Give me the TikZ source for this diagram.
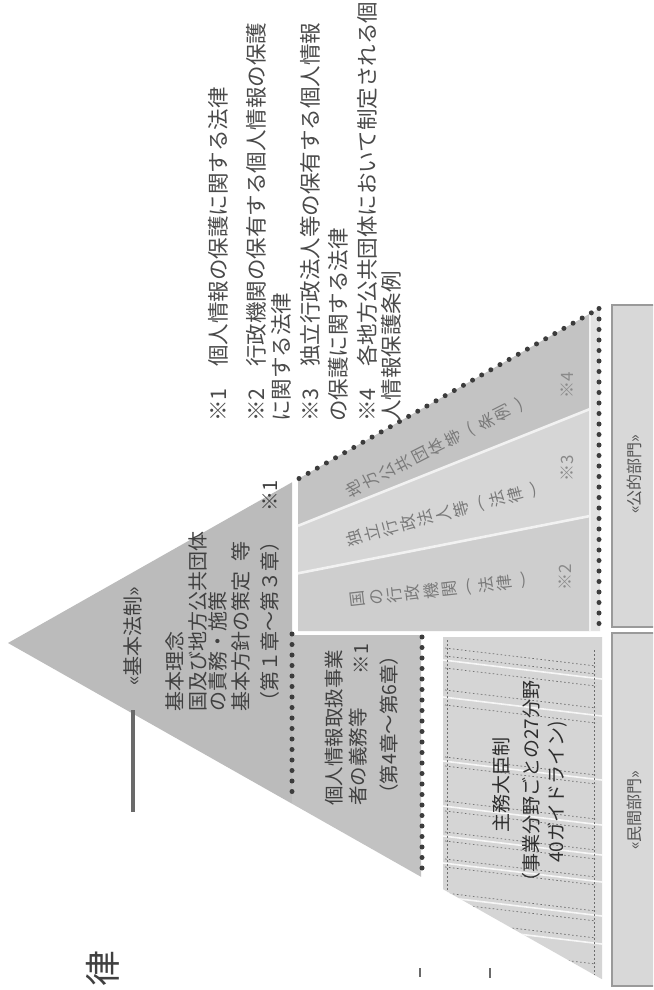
\documentclass[tikz,border=0pt]{standalone}
\usepackage{fontspec}
\usepackage{graphicx}
\newfontfamily\jp{Noto Sans CJK JP}
\newcommand{\vlp}{\rotatebox[origin=c]{-90}{(}}
\newcommand{\vrp}{\rotatebox[origin=c]{-90}{)}}
\definecolor{kihonfill}{HTML}{BBBBBB}
\definecolor{bandfill}{HTML}{C2C2C2}
\definecolor{shumufill}{HTML}{D5D5D5}
\definecolor{sfourfill}{HTML}{C3C3C3}
\definecolor{sthreefill}{HTML}{D6D6D6}
\definecolor{stwofill}{HTML}{CECECE}
\definecolor{rightfill}{HTML}{E2E2E2}
\definecolor{basefill}{HTML}{D8D8D8}
\definecolor{boxline}{HTML}{9A9A9A}
\definecolor{dotc}{HTML}{3C3C3C}
\definecolor{guidec}{HTML}{6E6E6E}
\definecolor{notec}{HTML}{4A4A4A}
\definecolor{darkt}{HTML}{404040}
\definecolor{shumuc}{HTML}{2E2E2E}
\definecolor{stripc}{HTML}{7A7A7A}
\definecolor{komec}{HTML}{8A8A8A}
\definecolor{basec}{HTML}{555555}
\definecolor{barc}{HTML}{6A6A6A}
\tikzset{
  notetxt/.style={font=\jp\fontsize{21.5pt}{24pt}\selectfont, text=notec, rotate=90, anchor=west, inner sep=0pt},
  kihontxt/.style={font=\jp\fontsize{20pt}{22pt}\selectfont, text=darkt, rotate=90, anchor=west, inner sep=0pt},
  bandtxt/.style={font=\jp\fontsize{19.5pt}{22pt}\selectfont, text=darkt, rotate=90, anchor=west, inner sep=0pt},
  shumutxt/.style={font=\jp\fontsize{19pt}{22pt}\selectfont, text=shumuc, rotate=90, inner sep=0pt},
  striptxt/.style={font=\jp\fontsize{16.5pt}{18.5pt}\selectfont, text=stripc, align=center, inner sep=0pt},
  kometxt/.style={font=\jp\fontsize{17pt}{18pt}\selectfont, text=komec, rotate=90, inner sep=0pt},
  basetxt/.style={font=\jp\fontsize{16pt}{18pt}\selectfont, text=basec, rotate=90, inner sep=0pt},
  dotline/.style={draw=dotc, line width=5pt, line cap=round, dash pattern=on 0pt off 10.5pt},
  guide/.style={draw=guidec, line width=0.7pt, dash pattern=on 1.6pt off 2.4pt},
  hilite/.style={draw=white!90!gray, line width=2.6pt},
  softhilite/.style={draw=white, line width=1.6pt, opacity=0.8},
  basebox/.style={fill=basefill, draw=boxline, line width=1.4pt},
  tickmark/.style={draw=barc, line width=1.5pt},
}
\begin{document}
\begin{tikzpicture}[x=1pt,y=-1pt]
\useasboundingbox (0,0) rectangle (653,990);
\clip (0,0) rectangle (653,990);
\fill[white] (0,0) rectangle (653,990);

% key points
\coordinate (apex) at (8,643);
\coordinate (kTR) at (292,482.3);
\coordinate (kBR) at (292,803.7);
\coordinate (pTL) at (298,478.9);
\coordinate (pTR) at (590,313.6);
\coordinate (sA1) at (298,525.8);
\coordinate (sA2) at (590,409);
\coordinate (sB1) at (298,573.3);
\coordinate (sB2) at (590,516);
\coordinate (pBL) at (298,631);
\coordinate (pBR) at (590,631);
\coordinate (cTR) at (600,307.9);
\coordinate (cBR) at (600,631);

% basic-law triangle
\fill[kihonfill] (apex) -- (kTR) -- (kBR) -- cycle;

% public strips
\fill[sfourfill] (pTL) -- (pTR) -- (sA2) -- (sA1) -- cycle;
\fill[sthreefill] (sA1) -- (sA2) -- (sB2) -- (sB1) -- cycle;
\fill[stwofill] (sB1) -- (sB2) -- (pBR) -- (pBL) -- cycle;
\fill[rightfill] (pTR) -- (cTR) -- (cBR) -- (pBR) -- cycle;
\draw[hilite] (sA1) -- (sA2);
\draw[hilite] (sB1) -- (sB2);
\draw[hilite] (pTR) -- (pBR);

% private band
\fill[bandfill] (292,635) -- (421,635) -- (421,876.8) -- (292,803.7) -- cycle;
% minister area
\fill[shumufill] (443,637) -- (602,637) -- (602,979.2) -- (443,889.2) -- cycle;
\begin{scope}
  \clip (443,637) -- (602,637) -- (602,979.2) -- (443,889.2) -- cycle;
  \foreach \yy in {660,697,761,806,836,863,897,925} {
    \draw[softhilite] (443,\yy) -- (602,\yy+19);
  }
  \foreach \yy in {648,656,668,690,705,757,766,801,811,832,841,859,867,893,903,920,946} {
    \draw[guide] (445,\yy) -- (596,\yy+18);
  }
  \draw[guide] (447,640) -- (447,895);
  \draw[guide] (594,650) -- (594,980);
\end{scope}

% base boxes
\draw[basebox] (612,305) rectangle (662,627);
\draw[basebox] (612,633) rectangle (662,986);

% dotted borders
\draw[dotline] (299,478.5) -- (599,308.5);
\draw[dotline] (599,308.5) -- (599,633);
\draw[dotline] (292,634) -- (292,800);
\draw[dotline] (422,637) -- (422,874);

% small marks
\draw[line width=3.5pt, draw=barc] (133,710) -- (133,812);
\draw[tickmark] (420,968) -- (420,977);
\draw[tickmark] (490,968) -- (490,978);

% notes
\node[notetxt] (n1) at (218,422) {※1　個人情報の保護に関する法律};
\node[notetxt] (n2a) at (256,422) {※2　行政機関の保有する個人情報の保護};
\node[notetxt] (n2b) at (281,422) {に関する法律};
\node[notetxt] (n3a) at (310,422) {※3　独立行政法人等の保有する個人情報};
\node[notetxt] (n3b) at (338,422) {の保護に関する法律};
\node[notetxt] (n4a) at (367,422) {※4　各地方公共団体において制定される個};
\node[notetxt] (n4b) at (391,422) {人情報保護条例};

% basic-law texts
\node[kihontxt, anchor=center] (kihon) at (133,636) {«基本法制»};
\node[kihontxt] (rinen) at (175,712) {基本理念};
\node[kihontxt] (sek1) at (198,712) {国及び地方公共団体};
\node[kihontxt] (sek2) at (218,712) {の責務・施策};
\node[kihontxt] (hoshin) at (241,712) {基本方針の策定\hspace{0.5em}等};
\node[kihontxt] (shoA) at (270,712) {（第１章～第３章）　※1};

% private band texts
\node[bandtxt] (jig1) at (334,806) {個人情報取扱事業};
\node[bandtxt] (jig2) at (358,806) {者の義務等};
\node[bandtxt, anchor=center] (jigk) at (361,659) {※1};
\node[bandtxt] (shoB) at (389,804) {（第4章～第6章）};

% minister texts
\node[shumutxt] (sh1) at (501,785) {主務大臣制};
\node[shumutxt] (sh2) at (531,786) {（事業分野ごとの27分野};
\node[shumutxt] (sh3) at (558,792) {40ガイドライン)};

% strip labels (vertical writing, rotated)
\node[striptxt, rotate=117] (lab4) at (436,447) {地\\方\\公\\共\\団\\体\\等\\\vlp\\条\\例\\\vrp};
\node[striptxt, rotate=105] (lab3) at (443,514) {独\\立\\行\\政\\法\\人\\等\\\vlp\\法\\律\\\vrp};
\node[striptxt, rotate=96.5] (lab2) at (440,590) {国\\の\\行\\政\\機\\関\\\vlp\\法\\律\\\vrp};
\node[kometxt] (k4) at (567,385) {※4};
\node[kometxt] (k3) at (567,468) {※3};
\node[kometxt] (k2) at (565,577) {※2};

% base labels
\node[basetxt] (pub) at (634,474) {«公的部門»};
\node[basetxt] (pri) at (634,810) {«民間部門»};

% title fragment at the lower edge
\node[font=\jp\fontsize{36pt}{36pt}\selectfont, text=darkt, rotate=90, inner sep=0pt] (ritsu) at (103,968) {律};
\end{tikzpicture}
\end{document}
